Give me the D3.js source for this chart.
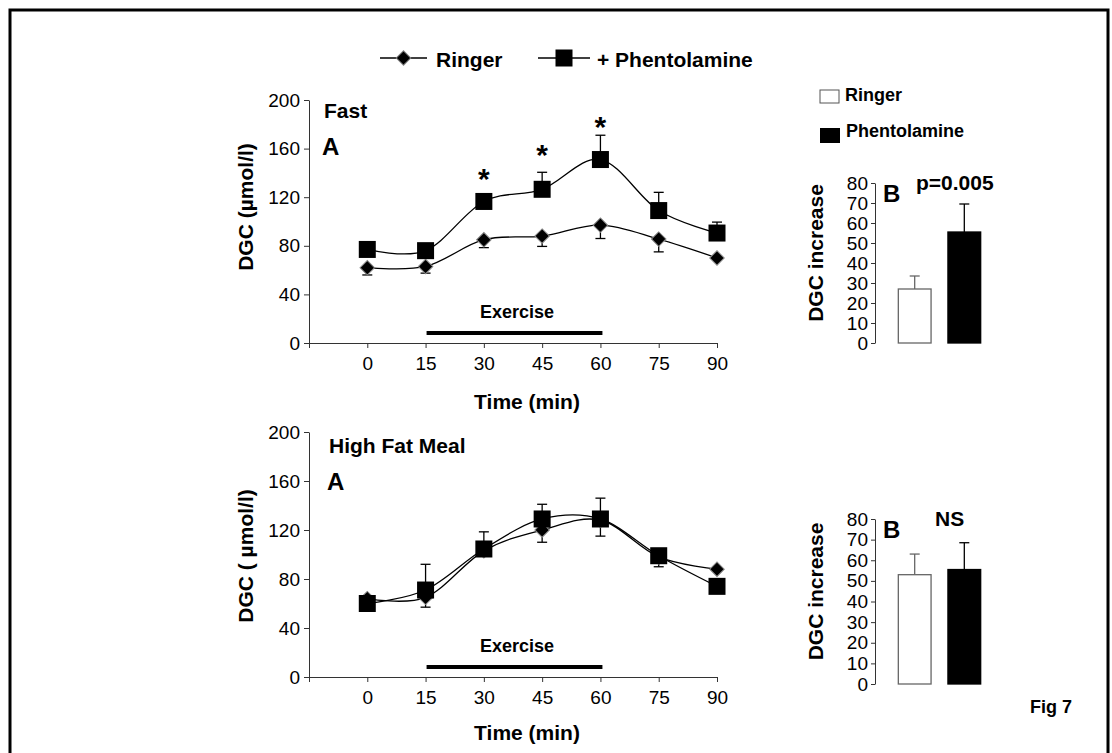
<!DOCTYPE html>
<html>
<head>
<meta charset="utf-8">
<script src="https://cdn.jsdelivr.net/npm/d3@7"></script>
<style>
  body { margin: 0; background: #fff; }
  svg { display: block; font-family: "Liberation Sans", Arial, sans-serif; }
</style>
</head>
<body>
<svg id="chart" width="1112" height="753"></svg>
<script>
// time points (min) and x tick labels
const times = [0, 15, 30, 45, 60, 75, 90];
const timeTicks = [-15, 0, 15, 30, 45, 60, 75, 90];
const dgcTicks = [0, 40, 80, 120, 160, 200];
const increaseTicks = [0, 10, 20, 30, 40, 50, 60, 70, 80];

// Fast, DGC (umol/l), mean and SE
const fastRinger = [62, 63, 85, 88, 97, 85.5, 70];
const fastRingerSE = [6, 5.5, 6.5, 8.5, 11, 10.5, 0];
const fastPhent = [77, 76, 116.5, 126.5, 151, 109, 90.5];
const fastPhentSE = [0, 0, 4, 14, 20, 15, 9];
// significance stars: time and height (umol/l) where they sit
const starTimes = [30, 45, 60];
const starLevels = [140, 160, 183];

// High fat meal, DGC (umol/l), mean and SE
const mealRinger = [64, 65, 103, 120, 128, 98, 88];
const mealRingerSE = [0, 8, 0, 10, 13, 8, 0];
const mealPhent = [60, 71, 104.5, 129, 129, 99, 74];
const mealPhentSE = [0, 21, 14, 12, 17, 0, 0];

// DGC increase bars
const barGroups = ["Ringer", "Phentolamine"];
const fastIncrease = [27, 55.5];
const fastIncreaseSE = [6.5, 14];
const mealIncrease = [53, 55.5];
const mealIncreaseSE = [10, 13];

const svg = d3.select("#chart");
const BOLD = "bold";

// outer frame
svg.append("rect")
    .attr("x", 10).attr("y", 10).attr("width", 1098).attr("height", 760)
    .attr("fill", "none").attr("stroke", "#000").attr("stroke-width", 3);

const text = (x, y, str, size, weight, anchor) => svg.append("text")
    .attr("x", x).attr("y", y)
    .attr("font-size", size + "px")
    .attr("font-weight", weight || "normal")
    .attr("text-anchor", anchor || "start")
    .attr("dominant-baseline", "central")
    .attr("fill", "#000")
    .text(str);

function drawDiamond(g, x, y) {
    g.append("path")
        .attr("d", d3.symbol().type(d3.symbolSquare).size(105)())
        .attr("transform", `translate(${x},${y}) rotate(45)`)
        .attr("fill", "#000").attr("stroke", "#888").attr("stroke-width", 1);
}
function drawSquare(g, x, y) {
    g.append("rect")
        .attr("x", x - 8.5).attr("y", y - 8.5).attr("width", 17).attr("height", 17)
        .attr("fill", "#000");
}

// line panel: DGC vs time
function linePanel(opt) {
    const x = d3.scaleLinear().domain([-15, 90]).range([309, 717]);
    const y = d3.scaleLinear().domain([0, 200]).range([opt.bottom, opt.top]);
    const g = svg.append("g");

    g.append("g")
        .attr("transform", `translate(${x(-15)},0)`)
        .call(d3.axisLeft(y).tickValues(dgcTicks).tickSize(5).tickSizeOuter(0).tickPadding(4))
        .call(a => a.selectAll("text").attr("font-size", "19px").attr("font-family", null).attr("fill", "#000"))
        .call(a => a.selectAll("path,line").attr("stroke", "#333"));

    g.append("g")
        .attr("transform", `translate(0,${y(0)})`)
        .call(d3.axisBottom(x).tickValues(timeTicks).tickSize(5).tickSizeOuter(0).tickPadding(9)
            .tickFormat(d => d < 0 ? "" : d))
        .call(a => a.selectAll("text").attr("font-size", "19px").attr("font-family", null).attr("fill", "#000"))
        .call(a => a.selectAll("path,line").attr("stroke", "#333"));

    // exercise bar
    g.append("line")
        .attr("x1", x(15) + 1).attr("x2", x(60) + 2)
        .attr("y1", y(0) - 10).attr("y2", y(0) - 10)
        .attr("stroke", "#000").attr("stroke-width", 4);
    text(517, y(0) - 31, "Exercise", 18, BOLD, "middle");

    const line = d3.line()
        .x((d, i) => x(times[i]))
        .y(d => y(d))
        .curve(d3.curveCatmullRom.alpha(0));

    const series = [
        { vals: opt.ringer, se: opt.ringerSE, dir: -1, marker: drawDiamond },
        { vals: opt.phent, se: opt.phentSE, dir: 1, marker: drawSquare }
    ];
    series.forEach(s => {
        g.append("path").attr("d", line(s.vals))
            .attr("fill", "none").attr("stroke", "#000").attr("stroke-width", 1.3);
    });
    series.forEach(s => {
        s.vals.forEach((v, i) => {
            if (!s.se[i]) return;
            const cx = x(times[i]), yEnd = y(v + s.dir * s.se[i]);
            g.append("line").attr("x1", cx).attr("x2", cx).attr("y1", y(v)).attr("y2", yEnd)
                .attr("stroke", "#000").attr("stroke-width", 1.3);
            g.append("line").attr("x1", cx - 5).attr("x2", cx + 5).attr("y1", yEnd).attr("y2", yEnd)
                .attr("stroke", "#000").attr("stroke-width", 1.3);
        });
    });
    series.forEach(s => s.vals.forEach((v, i) => s.marker(g, x(times[i]), y(v))));

    (opt.stars || []).forEach((t, i) => {
        svg.append("text")
            .attr("x", x(t)).attr("y", y(opt.starLevels[i]) + 16)
            .attr("text-anchor", "middle")
            .attr("font-size", "30px").attr("font-weight", BOLD)
            .text("*");
    });

    text(opt.titleX, opt.titleY, opt.title, 21, BOLD);
    text(opt.titleX - 2, opt.titleY + 36, "A", 24, BOLD);
    text(527, y(0) + opt.timeGap, "Time (min)", 21, BOLD, "middle");
    svg.append("text")
        .attr("transform", `translate(245,${opt.labelY}) rotate(-90)`)
        .attr("text-anchor", "middle").attr("dominant-baseline", "central")
        .attr("font-size", "21px").attr("font-weight", BOLD)
        .text(opt.yLabel);
}

// bar panel: DGC increase
function barPanel(opt) {
    const x = d3.scaleBand().domain(barGroups).range([875, 1004]).paddingInner(0.34).paddingOuter(0.47);
    const y = d3.scaleLinear().domain([0, 80]).range([opt.bottom, opt.top]);
    const g = svg.append("g");

    g.append("g")
        .attr("transform", "translate(875,0)")
        .call(d3.axisLeft(y).tickValues(increaseTicks).tickSize(4).tickSizeOuter(0).tickPadding(3))
        .call(a => a.selectAll("text").attr("font-size", "19px").attr("font-family", null).attr("fill", "#000"))
        .call(a => a.selectAll("path,line").attr("stroke", "#333"));

    barGroups.forEach((k, i) => {
        const v = opt.vals[i], se = opt.se[i];
        const cx = x(k) + x.bandwidth() / 2;
        const col = i === 0 ? "#666" : "#000";
        g.append("line").attr("x1", cx).attr("x2", cx).attr("y1", y(v)).attr("y2", y(v + se))
            .attr("stroke", col).attr("stroke-width", 1.3);
        g.append("line").attr("x1", cx - 5).attr("x2", cx + 5).attr("y1", y(v + se)).attr("y2", y(v + se))
            .attr("stroke", col).attr("stroke-width", 1.3);
        g.append("rect")
            .attr("x", x(k)).attr("y", y(v)).attr("width", x.bandwidth()).attr("height", y(0) - y(v))
            .attr("fill", i === 0 ? "#fff" : "#000")
            .attr("stroke", i === 0 ? "#666" : "#000").attr("stroke-width", 1.3);
    });

    text(883, opt.top + 10, "B", 24, BOLD);
    text(opt.noteX, opt.top - 1, opt.note, 21, BOLD);
    svg.append("text")
        .attr("transform", `translate(815,${(opt.top + opt.bottom) / 2 - 10}) rotate(-90)`)
        .attr("text-anchor", "middle").attr("dominant-baseline", "central")
        .attr("font-size", "21px").attr("font-weight", BOLD)
        .text("DGC increase");
}

linePanel({
    top: 100, bottom: 343,
    ringer: fastRinger, ringerSE: fastRingerSE,
    phent: fastPhent, phentSE: fastPhentSE,
    stars: starTimes, starLevels: starLevels,
    title: "Fast", titleX: 324, titleY: 110,
    yLabel: "DGC (µmol/l)", labelY: 207, timeGap: 58
});
linePanel({
    top: 432, bottom: 677,
    ringer: mealRinger, ringerSE: mealRingerSE,
    phent: mealPhent, phentSE: mealPhentSE,
    title: "High Fat Meal", titleX: 329, titleY: 445,
    yLabel: "DGC ( µmol/l)", labelY: 556, timeGap: 55
});

barPanel({ top: 183, bottom: 343, vals: fastIncrease, se: fastIncreaseSE, note: "p=0.005", noteX: 916 });
barPanel({ top: 519, bottom: 684, vals: mealIncrease, se: mealIncreaseSE, note: "NS", noteX: 935 });

// series legend (top)
const lg = svg.append("g");
[[380, 427, drawDiamond, 436, "Ringer"], [538, 590, drawSquare, 597, "+ Phentolamine"]].forEach(([x1, x2, m, tx, label]) => {
    lg.append("line").attr("x1", x1).attr("x2", x2).attr("y1", 58).attr("y2", 58)
        .attr("stroke", "#000").attr("stroke-width", 1.3);
    m(lg, (x1 + x2) / 2, 58);
    text(tx, 59, label, 21, BOLD);
});

// bar legend
svg.append("rect").attr("x", 820).attr("y", 90).attr("width", 19).attr("height", 13)
    .attr("fill", "#fff").attr("stroke", "#555").attr("stroke-width", 1);
text(845, 95, "Ringer", 18, BOLD);
svg.append("rect").attr("x", 820).attr("y", 128).attr("width", 20).attr("height", 15).attr("fill", "#000");
text(846, 131, "Phentolamine", 18, BOLD);

text(1030, 707, "Fig 7", 18, BOLD);
</script>
</body>
</html>
